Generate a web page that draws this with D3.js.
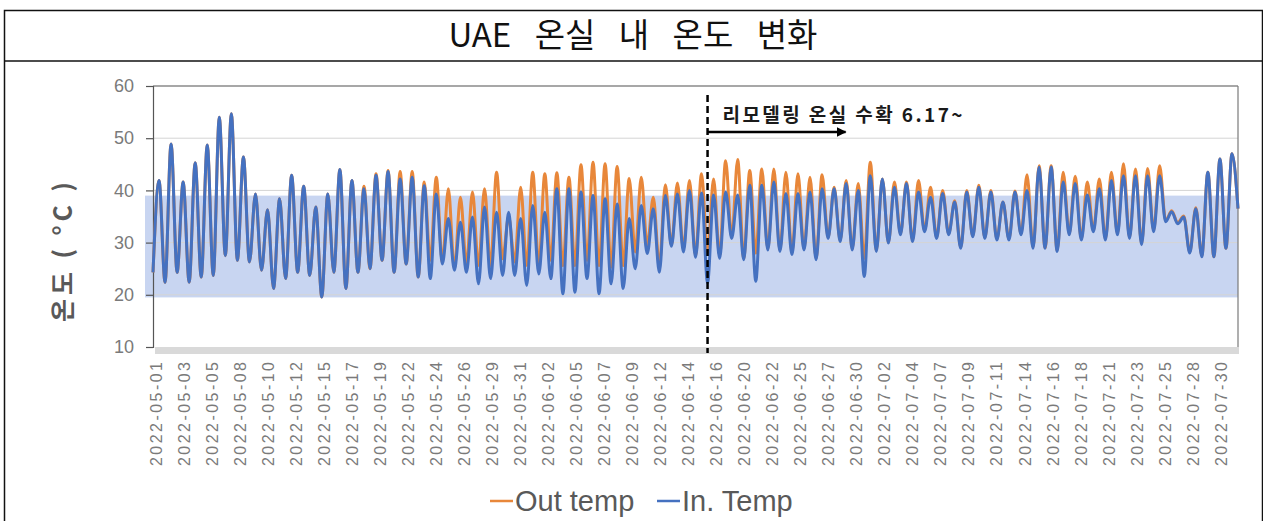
<!DOCTYPE html>
<html>
<head>
<meta charset="utf-8">
<script src="https://cdn.jsdelivr.net/npm/d3@7"></script>
<style>
  body { margin: 0; background: #fff; }
  svg { display: block; }
</style>
</head>
<body>
<div id="chart"></div>
<script>
// Chart values: one trough / peak pair per day cycle
var tickLabels = [
    "2022-05-01", "2022-05-03", "2022-05-05", "2022-05-08", "2022-05-10", "2022-05-12",
    "2022-05-15", "2022-05-17", "2022-05-19", "2022-05-22", "2022-05-24", "2022-05-26",
    "2022-05-29", "2022-05-31", "2022-06-02", "2022-06-05", "2022-06-07", "2022-06-09",
    "2022-06-12", "2022-06-14", "2022-06-16", "2022-06-20", "2022-06-22", "2022-06-25",
    "2022-06-27", "2022-06-30", "2022-07-02", "2022-07-04", "2022-07-07", "2022-07-09",
    "2022-07-11", "2022-07-14", "2022-07-16", "2022-07-18", "2022-07-21", "2022-07-23",
    "2022-07-25", "2022-07-28", "2022-07-30"
];

// In. Temp (greenhouse)
var inTemp = [
    24.3,
    41.9, 22.4, 48.9, 24.3, 41.6, 22.4, 45.3, 23.4, 48.7, 23.7,
    54.0, 27.5, 54.7, 26.6, 46.4, 26.3, 39.3, 24.7, 36.3, 21.2,
    38.4, 23.1, 42.9, 24.3, 40.8, 23.7, 36.8, 19.6, 39.3, 24.3,
    44.0, 21.2, 41.9, 24.3, 40.3, 25.0, 42.9, 26.6, 43.6, 24.3,
    42.2, 25.9, 42.5, 23.4, 40.9, 23.1, 39.3, 25.9, 34.6, 24.7,
    33.9, 24.3, 34.9, 22.1, 36.8, 23.1, 35.8, 23.7, 35.8, 23.7,
    34.6, 21.8, 37.1, 24.0, 35.8, 23.1, 40.3, 20.2, 40.3, 20.5,
    39.7, 23.1, 39.0, 20.2, 38.4, 22.1, 37.4, 21.2, 34.6, 25.0,
    37.1, 27.9, 36.5, 24.3, 39.0, 29.3, 39.3, 28.2, 40.0, 27.2,
    39.5, 22.3, 39.1, 27.0, 39.7, 30.8, 39.1, 26.7, 41.0, 22.6,
    41.0, 28.6, 41.6, 28.3, 39.4, 27.7, 39.4, 28.6, 39.7, 26.7,
    40.3, 30.8, 40.3, 30.2, 41.3, 28.6, 40.0, 23.5, 42.8, 28.3,
    42.2, 29.9, 40.6, 31.5, 41.3, 30.2, 39.7, 32.1, 38.7, 30.8,
    39.4, 31.5, 37.8, 28.9, 39.7, 31.1, 40.6, 30.8, 39.7, 30.5,
    37.8, 30.5, 39.7, 31.5, 40.0, 28.9, 44.5, 28.9, 44.5, 28.3,
    41.6, 31.5, 41.3, 30.5, 39.1, 32.1, 40.3, 30.5, 41.9, 31.5,
    42.8, 30.8, 42.8, 29.6, 42.8, 32.1, 42.8, 34.0, 35.9, 33.6,
    34.9, 28.0, 36.5, 27.3, 43.5, 27.3, 46.0, 28.9, 47.0, 36.5
];

// Out temp (outside)
var outTemp = [
    24.3,
    41.9, 22.4, 48.9, 24.3, 41.6, 22.4, 45.3, 23.4, 48.7, 23.7,
    54.0, 27.5, 54.7, 26.6, 46.4, 26.3, 39.3, 24.7, 36.3, 21.2,
    38.4, 23.1, 42.9, 24.3, 40.8, 23.7, 36.8, 19.6, 39.3, 24.3,
    44.0, 21.2, 41.9, 24.3, 40.8, 25.0, 43.2, 26.6, 43.8, 24.3,
    43.6, 25.9, 43.6, 23.4, 41.6, 26.6, 42.5, 26.3, 40.3, 25.0,
    38.7, 25.9, 39.7, 25.6, 40.3, 25.6, 43.5, 26.9, 35.0, 26.3,
    40.6, 25.6, 43.5, 25.6, 43.2, 26.6, 43.4, 25.6, 42.5, 25.6,
    44.9, 26.6, 45.4, 25.6, 45.1, 25.3, 44.6, 25.6, 42.3, 28.2,
    42.5, 29.5, 38.7, 25.6, 41.1, 29.5, 41.4, 28.8, 41.9, 27.5,
    43.2, 28.0, 42.2, 27.5, 45.7, 31.0, 45.9, 27.0, 43.8, 28.0,
    44.1, 28.8, 44.1, 28.5, 43.5, 28.0, 43.2, 28.8, 42.5, 27.0,
    43.0, 31.0, 40.6, 30.4, 41.9, 28.8, 41.3, 27.0, 45.4, 28.5,
    42.2, 30.0, 41.6, 31.7, 41.6, 30.4, 41.9, 32.3, 40.6, 31.0,
    40.0, 31.7, 38.0, 29.1, 40.0, 31.3, 41.0, 31.0, 40.0, 30.7,
    37.8, 30.7, 39.9, 31.7, 43.0, 29.1, 44.7, 29.0, 44.7, 28.5,
    43.5, 31.7, 42.7, 30.7, 41.6, 32.3, 42.2, 30.7, 43.5, 31.7,
    45.1, 31.0, 44.1, 29.8, 44.2, 32.3, 44.7, 34.2, 36.1, 33.8,
    35.1, 28.2, 36.7, 27.5, 43.5, 27.3, 46.0, 28.9, 47.0, 36.5
];

var yTicks = [10, 20, 30, 40, 50, 60];
var bandRange = [19.5, 39];          // shaded target band
var markerIndex = 92;                // remodelled greenhouse harvest from 6.17
var labelOffset = 0.5;               // data points before first label
var labelStep = 4.65;                // data points between tick labels

// SVG canvas
var svgWidth = 1263;
var svgHeight = 521;

var plot = { left: 153, right: 1238, top: 86, bottom: 347 };

var svg = d3.select("#chart").append("svg")
    .attr("width", svgWidth)
    .attr("height", svgHeight);

// Outer frame and title box
svg.append("rect")
    .attr("x", 4.5).attr("y", 10.5)
    .attr("width", svgWidth - 5).attr("height", svgHeight)
    .attr("fill", "none").attr("stroke", "#111").attr("stroke-width", 1.5);

svg.append("line")
    .attr("x1", 4).attr("x2", svgWidth).attr("y1", 61).attr("y2", 61)
    .attr("stroke", "#111").attr("stroke-width", 1.5);

svg.append("text")
    .attr("x", 633).attr("y", 47)
    .attr("text-anchor", "middle")
    .style("font-family", "'Noto Sans CJK KR', sans-serif")
    .style("font-size", "33px")
    .style("font-weight", 400)
    .style("word-spacing", "16px")
    .style("fill", "#111")
    .text("UAE 온실 내 온도 변화");

// Scales
var xScale = d3.scaleLinear()
    .domain([0, inTemp.length - 1])
    .range([plot.left, plot.right]);

var yScale = d3.scaleLinear()
    .domain([10, 60])
    .range([plot.bottom, plot.top]);

// Shaded band
svg.append("rect")
    .attr("x", plot.left - 8)
    .attr("y", yScale(bandRange[1]))
    .attr("width", plot.right - plot.left + 8)
    .attr("height", yScale(bandRange[0]) - yScale(bandRange[1]))
    .attr("fill", "#c8d5f1");

// Gridlines
svg.append("g").selectAll("line")
    .data(yTicks.filter(d => d > 10 && d < 60))
    .enter().append("line")
    .attr("x1", plot.left).attr("x2", plot.right)
    .attr("y1", d => yScale(d)).attr("y2", d => yScale(d))
    .attr("stroke", "#d4d4d4").attr("stroke-width", 1);

// Top and right border
svg.append("line")
    .attr("x1", plot.left).attr("x2", plot.right)
    .attr("y1", yScale(60)).attr("y2", yScale(60))
    .attr("stroke", "#8a8a8a").attr("stroke-width", 1.5);
svg.append("line")
    .attr("x1", plot.right).attr("x2", plot.right)
    .attr("y1", yScale(60)).attr("y2", plot.bottom)
    .attr("stroke", "#7a7a7a").attr("stroke-width", 1.2);

// Bottom axis bar
svg.append("rect")
    .attr("x", plot.left + 2).attr("y", plot.bottom)
    .attr("width", plot.right - plot.left - 1).attr("height", 7)
    .attr("fill", "#d9d9d9");

// Left axis
var leftAxis = d3.axisLeft(yScale).tickValues(yTicks).tickSize(7).tickPadding(12);
var yAxisG = svg.append("g")
    .attr("transform", `translate(${plot.left}, 0)`)
    .call(leftAxis);
yAxisG.select(".domain").attr("stroke", "#555").attr("stroke-width", 1.2);
yAxisG.selectAll(".tick line").attr("stroke", "#555").attr("stroke-width", 1.2);
yAxisG.selectAll(".tick text")
    .style("font-family", "'Liberation Sans', Arial, sans-serif")
    .style("font-size", "18px")
    .style("fill", "#7a7a7a");

// X tick labels (category axis, a label every few points)
svg.append("g").selectAll("text")
    .data(tickLabels)
    .enter().append("text")
    .attr("transform", (d, i) => `translate(${xScale(labelOffset + i * labelStep)}, 362) rotate(-90)`)
    .attr("text-anchor", "end")
    .attr("dy", "0.35em")
    .attr("textLength", 104).attr("lengthAdjust", "spacing")
    .style("font-family", "'Liberation Sans', Arial, sans-serif")
    .style("font-size", "16px")
    .style("fill", "#7a7a7a")
    .text(d => d);

// Lines
var line = d3.line()
    .x((d, i) => xScale(i))
    .y(d => yScale(d))
    .curve(d3.curveMonotoneX);

svg.append("path")
    .datum(outTemp)
    .attr("d", line)
    .attr("fill", "none")
    .attr("stroke", "#e8873a")
    .attr("stroke-width", 3)
    .attr("stroke-linejoin", "round");

svg.append("path")
    .datum(inTemp)
    .attr("d", line)
    .attr("fill", "none")
    .attr("stroke", "#4571c0")
    .attr("stroke-width", 3)
    .attr("stroke-linejoin", "round");

// Harvest marker
var mx = xScale(markerIndex);
svg.append("line")
    .attr("x1", mx).attr("x2", mx)
    .attr("y1", 95).attr("y2", plot.bottom + 6)
    .attr("stroke", "#000").attr("stroke-width", 2.5)
    .attr("stroke-dasharray", "7,4");

svg.append("defs").append("marker")
    .attr("id", "arrow")
    .attr("viewBox", "0 0 10 10")
    .attr("refX", 9).attr("refY", 5)
    .attr("markerWidth", 4).attr("markerHeight", 4)
    .attr("orient", "auto")
    .append("path")
    .attr("d", "M0,0 L10,5 L0,10 z")
    .attr("fill", "#000");

svg.append("line")
    .attr("x1", mx).attr("x2", mx + 138)
    .attr("y1", 132).attr("y2", 132)
    .attr("stroke", "#000").attr("stroke-width", 2.5)
    .attr("marker-end", "url(#arrow)");

svg.append("text")
    .attr("x", mx + 15).attr("y", 122)
    .attr("textLength", 240).attr("lengthAdjust", "spacing")
    .style("font-family", "'Noto Sans CJK KR', sans-serif")
    .style("font-size", "19px")
    .style("font-weight", "bold")
    .style("fill", "#1a1a1a")
    .text("리모델링 온실 수확 6.17~");

// Y axis title
svg.append("text")
    .attr("transform", "translate(63, 252) rotate(-90)")
    .attr("text-anchor", "middle")
    .attr("dy", "0.35em")
    .attr("textLength", 140).attr("lengthAdjust", "spacing")
    .style("font-family", "'Noto Sans CJK KR', sans-serif")
    .style("font-size", "25px")
    .style("font-weight", "bold")
    .style("fill", "#595959")
    .text("온도 ( °C )");

// Legend
var legendItems = [
    { name: "Out temp", color: "#e8873a", x: 490 },
    { name: "In. Temp", color: "#4571c0", x: 657 }
];
var legend = svg.append("g").selectAll("g")
    .data(legendItems)
    .enter().append("g")
    .attr("transform", d => `translate(${d.x}, 501)`);
legend.append("line")
    .attr("x1", 0).attr("x2", 23)
    .attr("stroke", d => d.color).attr("stroke-width", 2.5);
legend.append("text")
    .attr("x", 25).attr("dy", "0.35em")
    .style("font-family", "'Liberation Sans', Arial, sans-serif")
    .style("font-size", "29px")
    .style("fill", "#595959")
    .text(d => d.name);
</script>
</body>
</html>
